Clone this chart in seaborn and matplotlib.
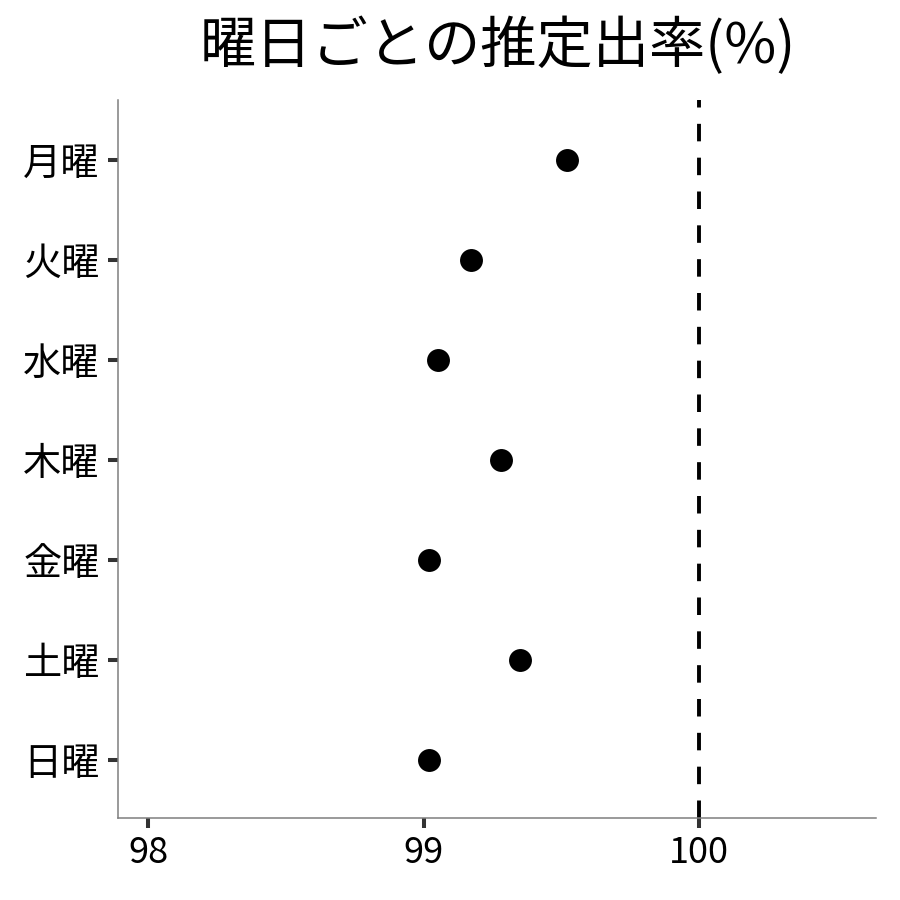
import matplotlib
matplotlib.use('Agg')
import matplotlib.pyplot as plt
import seaborn as sns
import pandas as pd

# 曜日ごとの推定出率
days = ['月曜', '火曜', '水曜', '木曜', '金曜', '土曜', '日曜']
rates = [99.52, 99.17, 99.05, 99.28, 99.02, 99.35, 99.02]
x_ticks = [98, 99, 100]
ref_value = 100

sns.set_theme(style='white')
plt.rcParams['font.family'] = ['Noto Sans CJK JP', 'DejaVu Sans']

df = pd.DataFrame({'day': days, 'rate': rates})

fig = plt.figure(figsize=(9, 9), dpi=100)
ax = fig.add_axes([0.131, 0.091, 0.842, 0.798])

sns.stripplot(data=df, x='rate', y='day', order=days, jitter=False,
              color='black', size=16.5, linewidth=0, ax=ax)
ax.axvline(ref_value, color='black', linestyle=(0, (4.5, 4.2)), linewidth=2.8)

ax.set_xlim(97.89, 100.64)
ax.set_ylim(6.58, -0.6)
ax.set_xticks(x_ticks)
ax.set_xticklabels([str(t) for t in x_ticks])
ax.set_xlabel('')
ax.set_ylabel('')

for side in ['top', 'right']:
    ax.spines[side].set_visible(False)
for side in ['left', 'bottom']:
    ax.spines[side].set_color('#7f7f7f')
    ax.spines[side].set_linewidth(1.1)

ax.tick_params(axis='both', which='major', length=7, width=2.9, color='#333333',
               labelcolor='black', pad=6, left=True, bottom=True)
ax.tick_params(axis='y', labelsize=27.5)
ax.tick_params(axis='x', labelsize=26, pad=5)

fig.text(0.553, 0.948, '曜日ごとの推定出率(%)', ha='center', va='center',
         fontsize=40.5, color='black')

plt.savefig('out.png', dpi=100)
